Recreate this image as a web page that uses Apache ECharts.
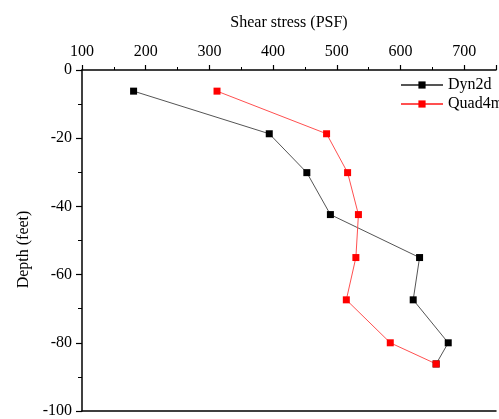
<!DOCTYPE html>
<html>
<head>
<meta charset="utf-8">
<script src="https://cdn.jsdelivr.net/npm/echarts@6/dist/echarts.min.js"></script>
<style>html,body{margin:0;padding:0;background:#fff;}#c{width:499px;height:419px;}</style>
</head>
<body>
<div id="c"></div>
<script>
const depth = [-6.2, -18.7, -30.1, -42.4, -55.0, -67.4, -80.0, -86.2];
const dyn2d = [181, 394, 453, 490, 630, 620, 675, 656];
const quad4m = [312, 484, 517, 534, 530, 515, 584, 656];
const seriesNames = ['Dyn2d', 'Quad4m'];

const font = 'Liberation Serif, Times New Roman, serif';
const chart = echarts.init(document.getElementById('c'));
chart.setOption({
  backgroundColor: '#ffffff',
  animation: false,
  grid: { left: 82, right: -5, top: 70, bottom: 5, containLabel: false },
  legend: {
    left: 395, top: 72, orient: 'vertical', itemGap: 3,
    itemWidth: 42, itemHeight: 9,
    textStyle: { fontFamily: font, fontSize: 16, color: '#000' },
    data: seriesNames.map(n => ({ name: n }))
  },
  xAxis: [{
    type: 'value', position: 'top', min: 100, max: 750, interval: 100,
    name: 'Shear stress (PSF)', nameLocation: 'middle', nameGap: 39,
    nameTextStyle: { fontFamily: font, fontSize: 16, color: '#000' },
    axisLine: { show: true, onZero: false, lineStyle: { color: '#000', width: 1.5 } },
    axisTick: { show: true, inside: false, length: 5, lineStyle: { color: '#000', width: 1.2 } },
    minorTick: { show: true, splitNumber: 2, length: 3, lineStyle: { color: '#000', width: 1 } },
    axisLabel: { fontFamily: font, fontSize: 16, color: '#000', margin: 10,
      formatter: v => (v % 100 === 0 && v <= 700) ? String(v) : '' },
    splitLine: { show: false }
  }, {
    type: 'value', position: 'bottom', min: 100, max: 750, interval: 100,
    axisLine: { show: true, onZero: false, lineStyle: { color: '#000', width: 1.5 } },
    axisTick: { show: false }, axisLabel: { show: false }, splitLine: { show: false }
  }],
  yAxis: {
    type: 'value', min: -100, max: 0, interval: 20,
    name: 'Depth (feet)', nameLocation: 'middle', nameGap: 49,
    nameTextStyle: { fontFamily: font, fontSize: 16, color: '#000', padding: [0, 18, 0, 0] },
    axisLine: { show: true, onZero: false, lineStyle: { color: '#000', width: 1.5 } },
    axisTick: { show: true, inside: false, length: 6, lineStyle: { color: '#000', width: 1.2 } },
    minorTick: { show: true, splitNumber: 2, length: 4, lineStyle: { color: '#000', width: 1 } },
    axisLabel: { fontFamily: font, fontSize: 16, color: '#000', margin: 10 },
    splitLine: { show: false }
  },
  series: [
    {
      name: seriesNames[0], type: 'line', xAxisIndex: 0,
      data: dyn2d.map((v, i) => [v, depth[i]]),
      symbol: 'rect', symbolSize: 7,
      itemStyle: { color: '#000' },
      lineStyle: { color: '#555', width: 1 }
    },
    {
      name: seriesNames[1], type: 'line', xAxisIndex: 0,
      data: quad4m.map((v, i) => [v, depth[i]]),
      symbol: 'rect', symbolSize: 7,
      itemStyle: { color: '#ff0000' },
      lineStyle: { color: '#ff5050', width: 1 }
    }
  ]
});
</script>
</body>
</html>
